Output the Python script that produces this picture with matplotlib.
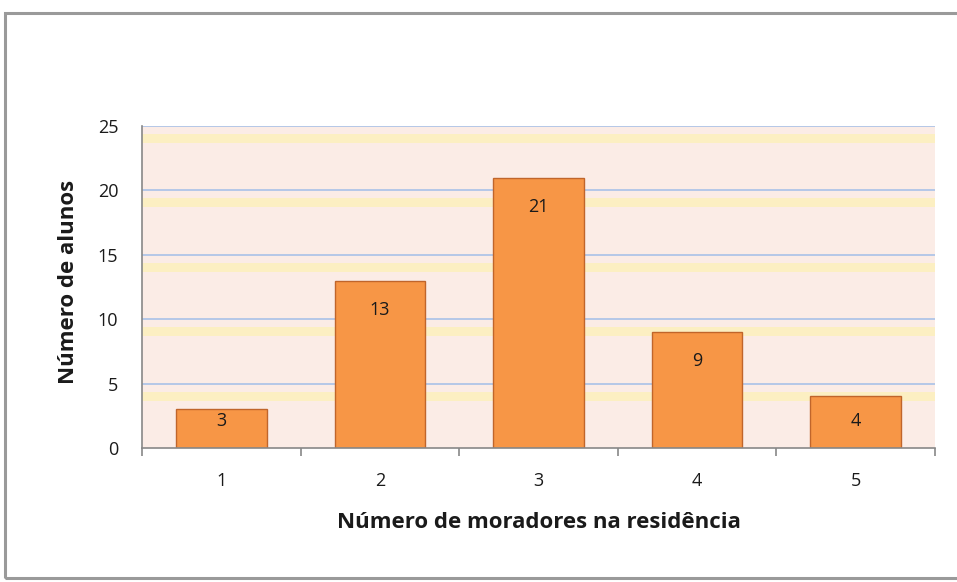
import matplotlib
matplotlib.use("Agg")
import matplotlib.pyplot as plt
from matplotlib.patches import Rectangle

categories = ["1", "2", "3", "4", "5"]
values = [3, 13, 21, 9, 4]
yticks = [0, 5, 10, 15, 20, 25]

plt.rcParams['font.family'] = ['Open Sans', 'DejaVu Sans']

W, H = 957, 582
fig = plt.figure(figsize=(W / 100, H / 100), dpi=100)
fig.patch.set_facecolor('white')

# outer chart frame
frame = Rectangle((5 / W, 4 / H), 960 / W, 565 / H, transform=fig.transFigure,
                  fill=False, edgecolor='#9a9a9a', linewidth=2.2, zorder=0)
fig.patches.append(frame)

ax_l, ax_r, ax_t, ax_b = 142, 935, 126, 448
ax = fig.add_axes([ax_l / W, (H - ax_b) / H, (ax_r - ax_l) / W, (ax_b - ax_t) / H])
ax.set_facecolor('#FBECE6')

x = list(range(len(categories)))
ax.set_xlim(-0.5, len(categories) - 0.5)
ax.set_ylim(0, 25)
px = 25 / (ax_b - ax_t)  # data units per pixel

# yellow bands under gridlines
for t in yticks[1:]:
    ax.axhspan(t - 17 * px, t - 8 * px, color='#FCEFC2', lw=0, zorder=0.5)
for t in yticks[1:]:
    ax.axhline(t, color='#A9C1E8', lw=1.2, zorder=0.8)

ax.bar(x, values, width=0.57, color='#F79646', edgecolor='#C0652B',
       linewidth=1.0, zorder=2)
for xi, v in zip(x, values):
    ly = max(v - 29 * px, 27 * px)
    ax.text(xi, ly, str(v), ha='center', va='center', fontsize=13,
            color='#1a1a1a', zorder=3)

ax.set_yticks(yticks)
ax.set_yticklabels([str(t) for t in yticks], fontsize=13, color='#1a1a1a')
ax.set_xticks(x)
ax.set_xticklabels(categories, fontsize=13, color='#1a1a1a')
ax.set_xticks([i - 0.5 for i in range(len(categories) + 1)], minor=True)
ax.tick_params(axis='x', which='major', length=0, pad=17)
ax.tick_params(axis='x', which='minor', length=6, color='#888888', width=1.2)
ax.tick_params(axis='y', length=0, pad=17)

for s in ['top', 'right']:
    ax.spines[s].set_visible(False)
for s in ['left', 'bottom']:
    ax.spines[s].set_color('#888888')
    ax.spines[s].set_linewidth(1.2)

fig.text((ax_l + ax_r) / 2 / W, 1 - 522 / H, 'Número de moradores na residência',
         ha='center', va='center', fontsize=16, fontweight='bold', color='#1a1a1a')
fig.text(68 / W, 1 - 282 / H, 'Número de alunos', rotation=90,
         ha='center', va='center', fontsize=16, fontweight='bold', color='#1a1a1a')

fig.savefig('out.png', dpi=100)
